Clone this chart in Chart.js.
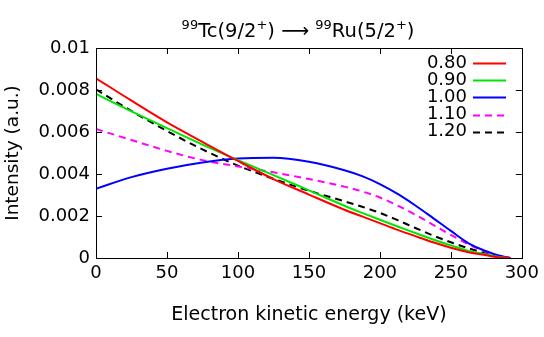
<!DOCTYPE html>
<html>
<head>
<meta charset="utf-8">
<script src="https://cdn.jsdelivr.net/npm/chart.js@4"></script>
<style>
html,body{margin:0;padding:0;background:#fff;}
#wrap{width:544px;height:337px;position:relative;}
</style>
</head>
<body>
<div id="wrap"><canvas id="c" width="544" height="337"></canvas></div>
<script>
// ---- data ----
const energy = [0, 25, 50, 75, 100, 125, 150, 175, 187.5, 200, 212.5, 225, 237.5, 250, 262.5, 275, 283, 292];
const s080 = [0.00856, 0.00749, 0.00646, 0.00553, 0.00462, 0.00376, 0.00302, 0.00230, 0.00198, 0.00166, 0.00134, 0.00104, 0.00075, 0.00049, 0.00027, 0.00013, 0.00004, 0];
const s090 = [0.00781, 0.00698, 0.00618, 0.00540, 0.00466, 0.00395, 0.00322, 0.00249, 0.00215, 0.00182, 0.00150, 0.00119, 0.00088, 0.00060, 0.00034, 0.00017, 0.00006, 0];
const s100 = [0.00330, 0.00385, 0.00425, 0.00455, 0.00474, 0.00477, 0.00458, 0.00418, 0.00390, 0.00352, 0.00305, 0.00250, 0.00190, 0.00129, 0.00070, 0.00032, 0.00013, 0];
const s110 = [0.00614, 0.00562, 0.00510, 0.00466, 0.00436, 0.00408, 0.00376, 0.00340, 0.00317, 0.00288, 0.00250, 0.00206, 0.00158, 0.00110, 0.00065, 0.00028, 0.00011, 0];
const s120 = [0.00803, 0.00700, 0.00605, 0.00517, 0.00440, 0.00377, 0.00320, 0.00270, 0.00244, 0.00215, 0.00180, 0.00143, 0.00107, 0.00075, 0.00046, 0.00022, 0.00009, 0];
const seriesLabels = ['0.80', '0.90', '1.00', '1.10', '1.20'];
const xTickLabels = ['0', '50', '100', '150', '200', '250', '300'];
const yTickLabels = ['0', '0.002', '0.004', '0.006', '0.008', '0.01'];
const titleParts = [['99', true], ['Tc(9/2', false], ['+', true], [') \u27F6 ', false], ['99', true], ['Ru(5/2', false], ['+', true], [')', false]];
const xTitle = 'Electron kinetic energy (keV)';
const yTitle = 'Intensity (a.u.)';

const FONT = 'DejaVu Sans';
const colors = ['#ff0000', '#00e600', '#0000ff', '#ff00ff', '#000000'];
const dashes = [[], [], [], [7, 5], [7, 5]];
const allSeries = [s080, s090, s100, s110, s120];

const datasets = allSeries.map((s, i) => ({
  label: seriesLabels[i],
  data: energy.map((e, j) => ({x: e, y: s[j]})),
  borderColor: colors[i],
  borderWidth: 2,
  borderDash: dashes[i],
  pointRadius: 0,
  fill: false,
  cubicInterpolationMode: 'monotone'
}));

const frame = {
  id: 'frame',
  afterDraw(chart) {
    const {ctx, chartArea: a, scales: {x, y}} = chart;
    ctx.save();
    ctx.strokeStyle = '#000';
    ctx.lineWidth = 1;
    ctx.setLineDash([]);
    const L = 6;
    ctx.beginPath();
    x.ticks.forEach(t => {
      const px = Math.round(x.getPixelForValue(t.value)) + 0.5;
      ctx.moveTo(px, a.bottom); ctx.lineTo(px, a.bottom - L);
      ctx.moveTo(px, a.top); ctx.lineTo(px, a.top + L);
    });
    y.ticks.forEach(t => {
      const py = Math.round(y.getPixelForValue(t.value)) + 0.5;
      ctx.moveTo(a.left, py); ctx.lineTo(a.left + L, py);
      ctx.moveTo(a.right, py); ctx.lineTo(a.right - L, py);
    });
    ctx.stroke();
    ctx.strokeRect(Math.round(a.left) + 0.5, Math.round(a.top) + 0.5, Math.round(a.right - a.left), Math.round(a.bottom - a.top));

    // legend
    ctx.font = '18px "' + FONT + '"';
    ctx.textAlign = 'right';
    ctx.textBaseline = 'middle';
    chart.data.datasets.forEach((d, i) => {
      const cy = 63 + i * 17.2;
      ctx.fillStyle = '#000';
      ctx.fillText(d.label, 467, cy);
      ctx.strokeStyle = d.borderColor;
      ctx.lineWidth = 2;
      ctx.setLineDash(d.borderDash);
      ctx.beginPath();
      ctx.moveTo(473, Math.round(cy) + 0.5);
      ctx.lineTo(506, Math.round(cy) + 0.5);
      ctx.stroke();
    });
    ctx.setLineDash([]);

    // title with superscripts
    const big = '19.5px "' + FONT + '"', small = '13px "' + FONT + '"';
    ctx.textAlign = 'left';
    ctx.textBaseline = 'alphabetic';
    ctx.fillStyle = '#000';
    let w = 0;
    titleParts.forEach(([t, sup]) => { ctx.font = sup ? small : big; w += ctx.measureText(t).width; });
    let cx = 298 - w / 2;
    const base = 37;
    titleParts.forEach(([t, sup]) => {
      ctx.font = sup ? small : big;
      ctx.fillText(t, cx, sup ? base - 8 : base);
      cx += ctx.measureText(t).width;
    });
    ctx.restore();
  }
};

new Chart(document.getElementById('c'), {
  type: 'line',
  data: {datasets},
  plugins: [frame],
  options: {
    responsive: false,
    animation: false,
    layout: {padding: {left: 0, right: 21, top: 48, bottom: 0}},
    plugins: {legend: {display: false}, tooltip: {enabled: false}, title: {display: false}},
    scales: {
      x: {
        type: 'linear', min: 0, max: 300,
        ticks: {stepSize: 50, padding: 5, color: '#000', font: {family: FONT, size: 18},
          maxRotation: 0, callback: (v, i) => xTickLabels[i]},
        grid: {display: false, drawTicks: false},
        border: {display: false},
        title: {display: true, text: xTitle, color: '#000', font: {family: FONT, size: 19}, padding: {top: 0, bottom: 11}},
        afterFit: s => { s.height = 337 - 258; }
      },
      y: {
        type: 'linear', min: 0, max: 0.01,
        ticks: {stepSize: 0.002, padding: 6, color: '#000', font: {family: FONT, size: 18},
          callback: (v, i) => yTickLabels[i]},
        grid: {display: false, drawTicks: false},
        border: {display: false},
        title: {display: true, text: yTitle, color: '#000', font: {family: FONT, size: 18.5}, padding: {top: 2, bottom: 0}},
        afterFit: s => { s.width = 96; }
      }
    }
  }
});
</script>
</body>
</html>
